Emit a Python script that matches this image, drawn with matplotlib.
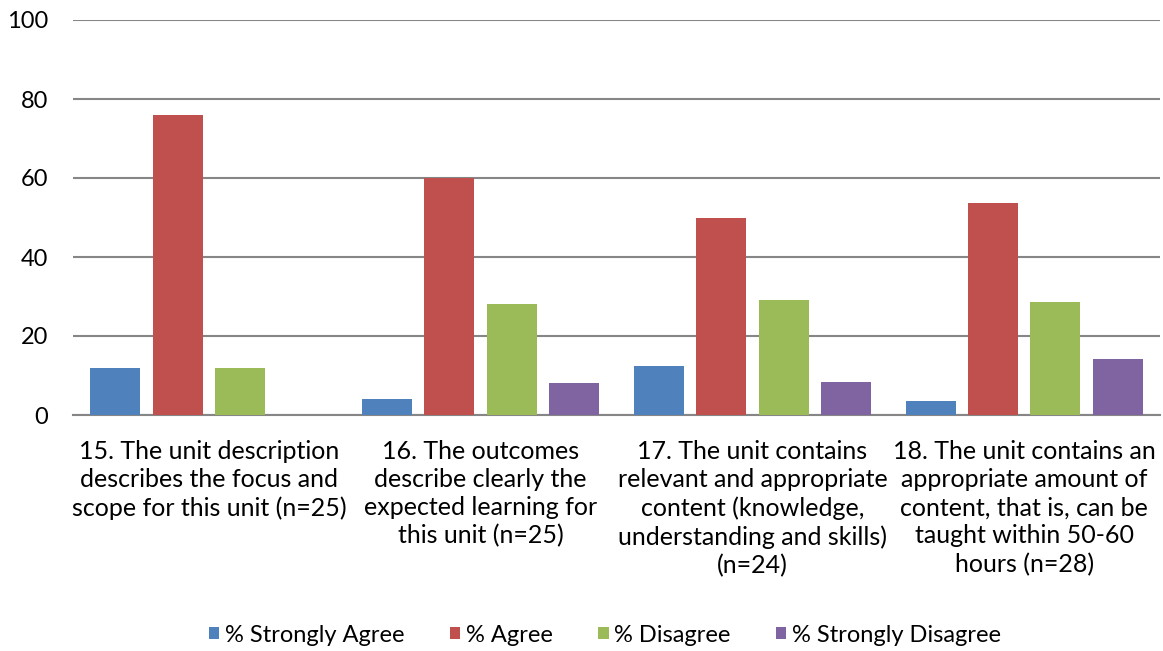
import numpy as np
import matplotlib.pyplot as plt
from matplotlib.patches import Patch

plt.rcParams['font.family'] = ['Lato', 'DejaVu Sans']

categories = [
    "15. The unit description\ndescribes the focus and\nscope for this unit (n=25)",
    "16. The outcomes\ndescribe clearly the\nexpected learning for\nthis unit (n=25)",
    "17. The unit contains\nrelevant and appropriate\ncontent (knowledge,\nunderstanding and skills)\n(n=24)",
    "18. The unit contains an\nappropriate amount of\ncontent, that is, can be\ntaught within 50-60\nhours (n=28)",
]
series_names = ["% Strongly Agree", "% Agree", "% Disagree", "% Strongly Disagree"]
strongly_agree = [12, 4, 12.5, 3.6]
agree = [76, 60, 50, 53.6]
disagree = [12, 28, 29.2, 28.6]
strongly_disagree = [0, 8, 8.3, 14.3]
colors = ["#4F81BD", "#C0504D", "#9BBB59", "#8064A2"]

fig = plt.figure(figsize=(11.63, 6.51), dpi=100)
ax = fig.add_axes([73 / 1163, 1 - 415 / 651, (1160 - 73) / 1163, (415 - 20) / 651])

x = np.arange(len(categories)) + 0.5
step = 0.2295
width = 0.184
all_series = [strongly_agree, agree, disagree, strongly_disagree]
for i, (vals, c) in enumerate(zip(all_series, colors)):
    ax.bar(x + (i - 1.5) * step, vals, width, color=c, zorder=3)

fs = 17
ax.set_xlim(0, 4)
ax.set_ylim(0, 100)
ax.set_yticks(range(0, 101, 20))
ax.yaxis.grid(True, color="#868686", linewidth=1.5, zorder=0)
for s in ["top", "right", "left"]:
    ax.spines[s].set_visible(False)
ax.spines["bottom"].set_color("#868686")
ax.spines["bottom"].set_linewidth(1.5)
ax.tick_params(axis="y", length=0, pad=18, labelsize=fs)
ax.tick_params(axis="x", length=0, pad=18, labelsize=18)
ax.set_xticks(x)
ax.set_xticklabels(categories, linespacing=1.27)

handles = [Patch(facecolor=c, label=n) for c, n in zip(colors, series_names)]
fig.legend(handles=handles, loc="center", bbox_to_anchor=(605 / 1163, 1 - 635 / 651), ncol=4,
           frameon=False, fontsize=fs, handlelength=0.45, handleheight=0.45,
           handletextpad=0.25, columnspacing=1.9)

fig.savefig("out.png", dpi=100)
